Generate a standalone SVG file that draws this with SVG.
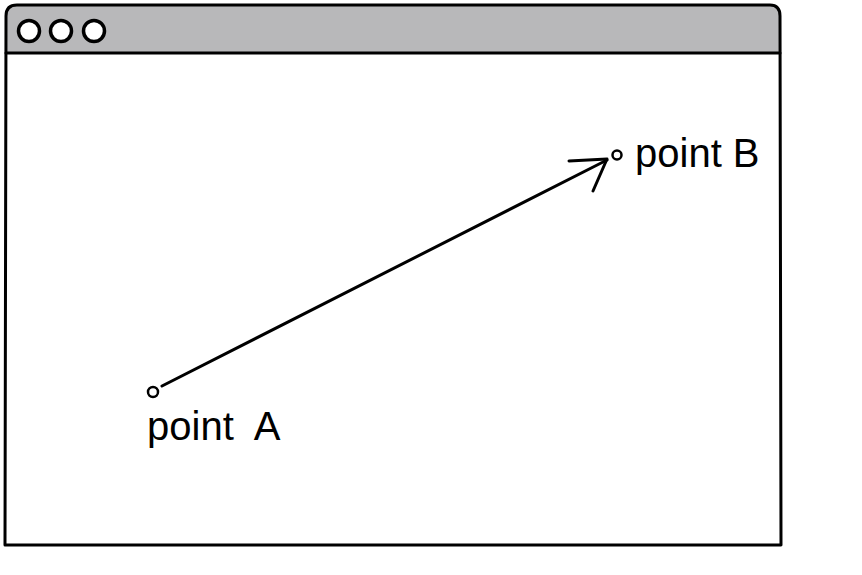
<svg xmlns="http://www.w3.org/2000/svg" width="862" height="575" viewBox="0 0 862 575">
<style>
.ln{fill:none;stroke:#000;stroke-width:3;stroke-linecap:round;stroke-linejoin:round}
.lbl{font-family:"Liberation Sans",Arial,sans-serif;font-size:40px;fill:#000}
.dot{fill:#fff;stroke:#000;stroke-width:2.5}
.btn{fill:#fff;stroke:#000;stroke-width:3.5}
</style>
<rect x="0" y="0" width="862" height="575" fill="#fff"/>
<g id="window">
<path d="M6,53 L6,16 Q6,5 17,5 L770,5 Q780,5 780,16 L780,53 Z" fill="#b8b8ba"/>
<path class="ln" d="M5,545 L6,16 Q6,5 17,5 L770,5 Q780,5 780,16 L781,545 L5,545 Z"/>
<line class="ln" x1="6" y1="53" x2="780" y2="53"/>
<circle class="btn" cx="29" cy="31" r="10.5"/>
<circle class="btn" cx="61" cy="31" r="10.5"/>
<circle class="btn" cx="94" cy="31" r="10.5"/>
</g>
<g id="pointA">
<circle class="dot" cx="153" cy="392" r="5"/>
<text class="lbl" x="147" y="440" word-spacing="11">point A</text>
</g>
<g id="pointB">
<circle class="dot" cx="617" cy="155" r="4.5"/>
<text class="lbl" x="635" y="167">point B</text>
</g>
<g id="connectors">
<line class="ln" x1="162" y1="386" x2="607" y2="160"/>
<path class="ln" d="M569,161 L607,159 L593,191"/>
</g>
</svg>
